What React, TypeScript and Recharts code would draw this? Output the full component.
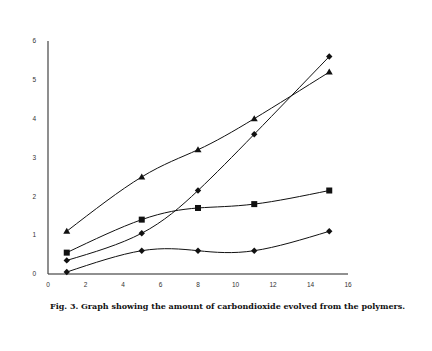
import React from "react";
import { LineChart, Line, XAxis, YAxis } from "recharts";

const times = [1, 5, 8, 11, 15];
const triangleSeries = [1.1, 2.5, 3.2, 4.0, 5.2];
const diamondHighSeries = [0.35, 1.05, 2.15, 3.6, 5.6];
const squareSeries = [0.55, 1.4, 1.7, 1.8, 2.15];
const diamondLowSeries = [0.05, 0.6, 0.6, 0.6, 1.1];
const xTicks = [0, 2, 4, 6, 8, 10, 12, 14, 16];
const yTicks = [0, 1, 2, 3, 4, 5, 6];

const data = times.map((t, i) => ({
  t,
  tri: triangleSeries[i],
  dHigh: diamondHighSeries[i],
  sq: squareSeries[i],
  dLow: diamondLowSeries[i],
}));

type DotProps = { cx?: number; cy?: number; index?: number };

const Triangle = ({ cx = 0, cy = 0, index }: DotProps) => (
  <polygon
    key={`tri-${index}`}
    points={`${cx},${cy - 3.5} ${cx - 3.5},${cy + 2.5} ${cx + 3.5},${cy + 2.5}`}
    fill="#111"
  />
);

const Diamond = ({ cx = 0, cy = 0, index }: DotProps) => (
  <polygon
    key={`dia-${index}`}
    points={`${cx},${cy - 3.2} ${cx + 3.2},${cy} ${cx},${cy + 3.2} ${cx - 3.2},${cy}`}
    fill="#111"
  />
);

const Square = ({ cx = 0, cy = 0, index }: DotProps) => (
  <rect key={`sq-${index}`} x={cx - 3} y={cy - 3} width={6} height={6} fill="#111" />
);

const tickStyle = { fontSize: 6.5, fill: "#333", fontFamily: "Liberation Sans" };

export default function App() {
  return (
    <div style={{ position: "absolute", left: 0, top: 0, width: 432, height: 351, background: "#fff" }}>
      <LineChart
        width={432}
        height={300}
        data={data}
        margin={{ top: 41, right: 84, bottom: 0, left: 0 }}
      >
        <XAxis
          dataKey="t"
          type="number"
          domain={[0, 16]}
          ticks={xTicks}
          tickLine={false}
          axisLine={{ stroke: "#222", strokeWidth: 1.2 }}
          tick={tickStyle}
          tickMargin={2}
          height={26}
        />
        <YAxis
          type="number"
          domain={[0, 6]}
          ticks={yTicks}
          tickLine={false}
          axisLine={{ stroke: "#444", strokeWidth: 1.2 }}
          tick={tickStyle}
          tickMargin={6}
          width={48}
        />
        <Line type="natural" dataKey="tri" stroke="#111" strokeWidth={1} dot={<Triangle />} isAnimationActive={false} />
        <Line type="natural" dataKey="dHigh" stroke="#111" strokeWidth={1} dot={<Diamond />} isAnimationActive={false} />
        <Line type="natural" dataKey="sq" stroke="#111" strokeWidth={1} dot={<Square />} isAnimationActive={false} />
        <Line type="natural" dataKey="dLow" stroke="#111" strokeWidth={1} dot={<Diamond />} isAnimationActive={false} />
      </LineChart>
      <div
        style={{
          position: "absolute",
          left: 50,
          top: 301,
          fontFamily: "DejaVu Serif",
          fontWeight: "bold",
          fontSize: 8,
          color: "#111",
          whiteSpace: "nowrap",
        }}
      >
        Fig. 3. Graph showing the amount of carbondioxide evolved from the polymers.
      </div>
    </div>
  );
}
